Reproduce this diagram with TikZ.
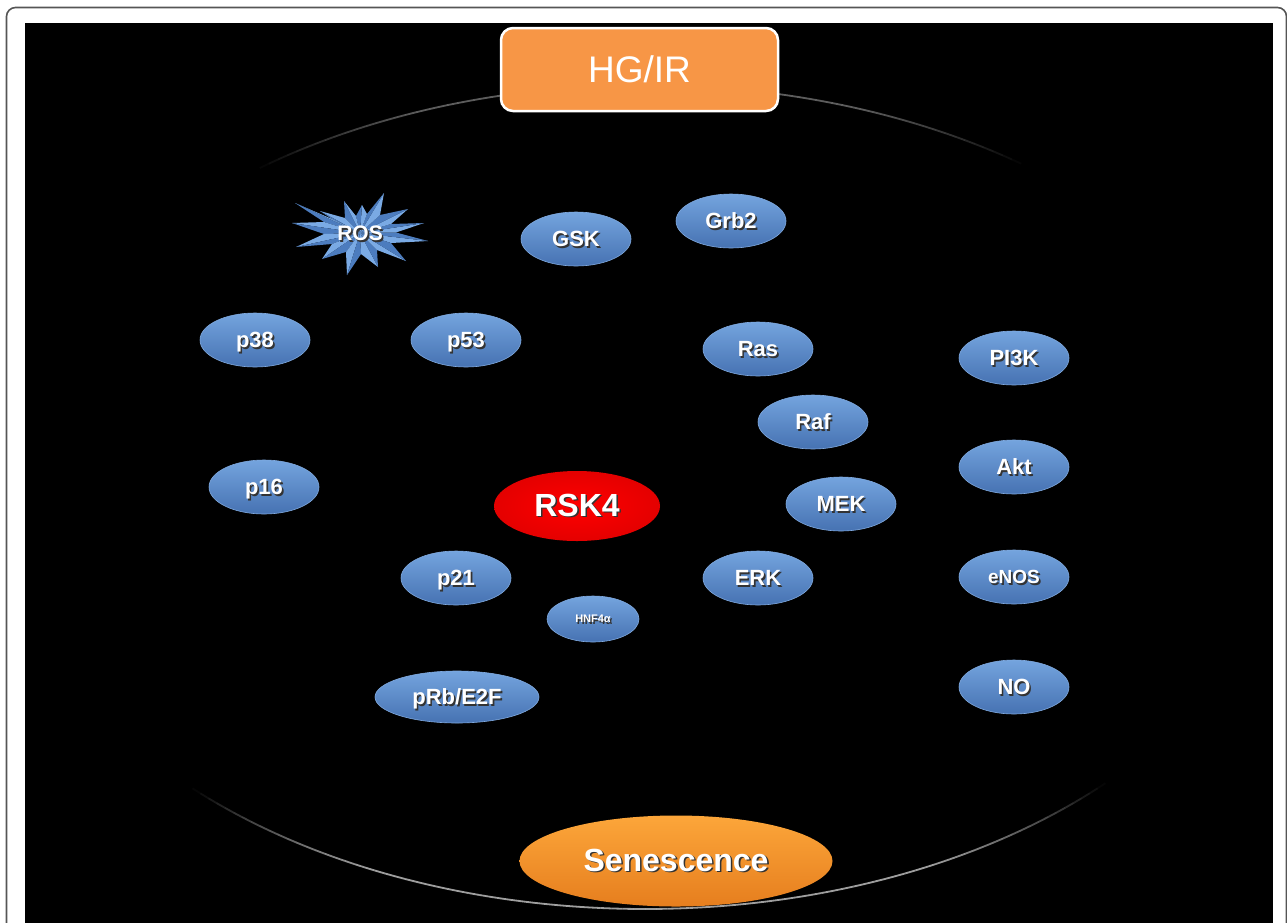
\documentclass[tikz,border=0pt]{standalone}
\usepackage{fontspec}
\setmainfont{Liberation Sans}
\usetikzlibrary{shapes.geometric}
\definecolor{bluetop}{RGB}{116,164,222}
\definecolor{bluebot}{RGB}{70,114,178}
\definecolor{bluerim}{RGB}{128,170,224}
\definecolor{hgorange}{RGB}{247,150,70}
\definecolor{senTop}{RGB}{252,166,58}
\definecolor{senBot}{RGB}{230,126,30}
\definecolor{framegray}{RGB}{85,85,85}
\definecolor{starlight}{RGB}{122,170,228}
\definecolor{stardark}{RGB}{76,124,190}
\definecolor{rskdark}{RGB}{228,0,0}
\newcommand\shtext[1]{\rlap{\hspace{1.6pt}\raisebox{-1.6pt}{\color{black!80}#1}}#1}
\tikzset{
  mol/.style={ellipse, inner sep=0pt, minimum width=110pt, minimum height=54pt,
    top color=bluetop, bottom color=bluebot, draw=bluerim, line width=0.6pt,
    text=white, font=\fontsize{22}{24}\selectfont\bfseries, text depth=0pt},
  hgbox/.style={rectangle, rounded corners=12pt, fill=hgorange, draw=white, line width=2.5pt,
    minimum width=277pt, minimum height=83pt, text=white, font=\fontsize{37}{40}\selectfont},
  rskstyle/.style={ellipse, inner sep=0pt, minimum width=166pt, minimum height=70pt,
    inner color=red, outer color=rskdark, text=white, font=\fontsize{32}{34}\selectfont\bfseries},
  senstyle/.style={ellipse, inner sep=0pt, minimum width=313pt, minimum height=91pt,
    top color=senTop, bottom color=senBot, text=white, font=\fontsize{32}{34}\selectfont\bfseries},
  starlabel/.style={inner sep=0pt, text=white, font=\fontsize{21}{23}\selectfont\bfseries}
}
\begin{document}
\begin{tikzpicture}[x=1pt,y=-1pt]
\clip (0,0) rectangle (1287,922);
\fill[white] (0,0) rectangle (1287,922);
\draw[framegray, line width=1.6pt, rounded corners=9pt] (6.5,7.5) rectangle (1286.5,945);
\fill[black] (25,23) rectangle (1273,930);
% faint outer ellipse
\foreach \a in {30,31,...,149}{
  \pgfmathsetmacro\op{max(0,min(1,(sin(\a)-0.80)/0.14))*0.36}
  \draw[white, opacity=\op, line width=1.8pt] ({645+640*cos(\a)},{497-412*sin(\a)}) -- ({645+640*cos(\a+1)},{497-412*sin(\a+1)});
}
\foreach \a in {200,201,...,339}{
  \pgfmathsetmacro\op{max(0,min(1,(-sin(\a)-0.70)/0.2))*0.62}
  \draw[white, opacity=\op, line width=1.8pt] ({645+640*cos(\a)},{497-412*sin(\a)}) -- ({645+640*cos(\a+1)},{497-412*sin(\a+1)});
}
% ROS star
\begin{scope}[shift={(360,233)}]
\coordinate (sc) at (0,0);
\foreach \n/\x/\y in {1/68/8,2/64/-10,3/48/-24,4/24/-40,5/2/-28,6/-16/-32,7/-40/-22,8/-65/-30,9/-68/-10,10/-64/14,11/-38/26,12/-13/42,13/18/34,14/46/28}
  \coordinate (so\n) at (\x,\y);
\foreach \n/\x/\y in {1/36/-0.5,2/31/-9,3/20/-18,4/7/-19,5/-4/-17,6/-15/-15,7/-28/-14,8/-36/-11,9/-36/1,10/-28/11,11/-14/19,12/1/21,13/17/17,14/31/10}
  \coordinate (si\n) at (\x,\y);
\foreach \k/\p in {1/14,2/1,3/2,4/3,5/4,6/5,7/6,8/7,9/8,10/9,11/10,12/11,13/12,14/13}{
  \fill[starlight] (sc)--(si\p)--(so\k)--cycle;
  \fill[stardark] (sc)--(so\k)--(si\k)--cycle;
}
\end{scope}
\node[starlabel] (ros) at (360,234) {\shtext{ROS}};
% top box
\node[hgbox] (hg) at (639.5,69.5) {HG/IR};
% molecules
\node[mol] (gsk) at (576,239) {\shtext{GSK}};
\node[mol] (grb2) at (731,221) {\shtext{Grb2}};
\node[mol] (p38) at (255,340) {\shtext{p38}};
\node[mol] (p53) at (466,340) {\shtext{p53}};
\node[mol] (ras) at (758,349) {\shtext{Ras}};
\node[mol] (pi3k) at (1014,358) {\shtext{PI3K}};
\node[mol] (raf) at (813,422) {\shtext{Raf}};
\node[mol] (akt) at (1014,467) {\shtext{Akt}};
\node[mol] (p16) at (264,487) {\shtext{p16}};
\node[mol] (mek) at (841,504) {\shtext{MEK}};
\node[mol] (p21) at (456,578) {\shtext{p21}};
\node[mol] (erk) at (758,578) {\shtext{ERK}};
\node[mol, font=\fontsize{19}{21}\selectfont\bfseries] (enos) at (1014,577) {\shtext{eNOS}};
\node[mol, minimum width=92pt, minimum height=46pt, font=\fontsize{11}{12}\selectfont\bfseries] (hnf) at (593,619) {\shtext{HNF4α}};
\node[mol, minimum width=164pt, minimum height=52pt] (prb) at (457,697) {\shtext{pRb/E2F}};
\node[mol] (no) at (1014,687) {\shtext{NO}};
\node[rskstyle] (rsk4) at (577,506) {\shtext{RSK4}};
\node[senstyle] (sen) at (676,861) {\shtext{Senescence}};
\end{tikzpicture}
\end{document}
